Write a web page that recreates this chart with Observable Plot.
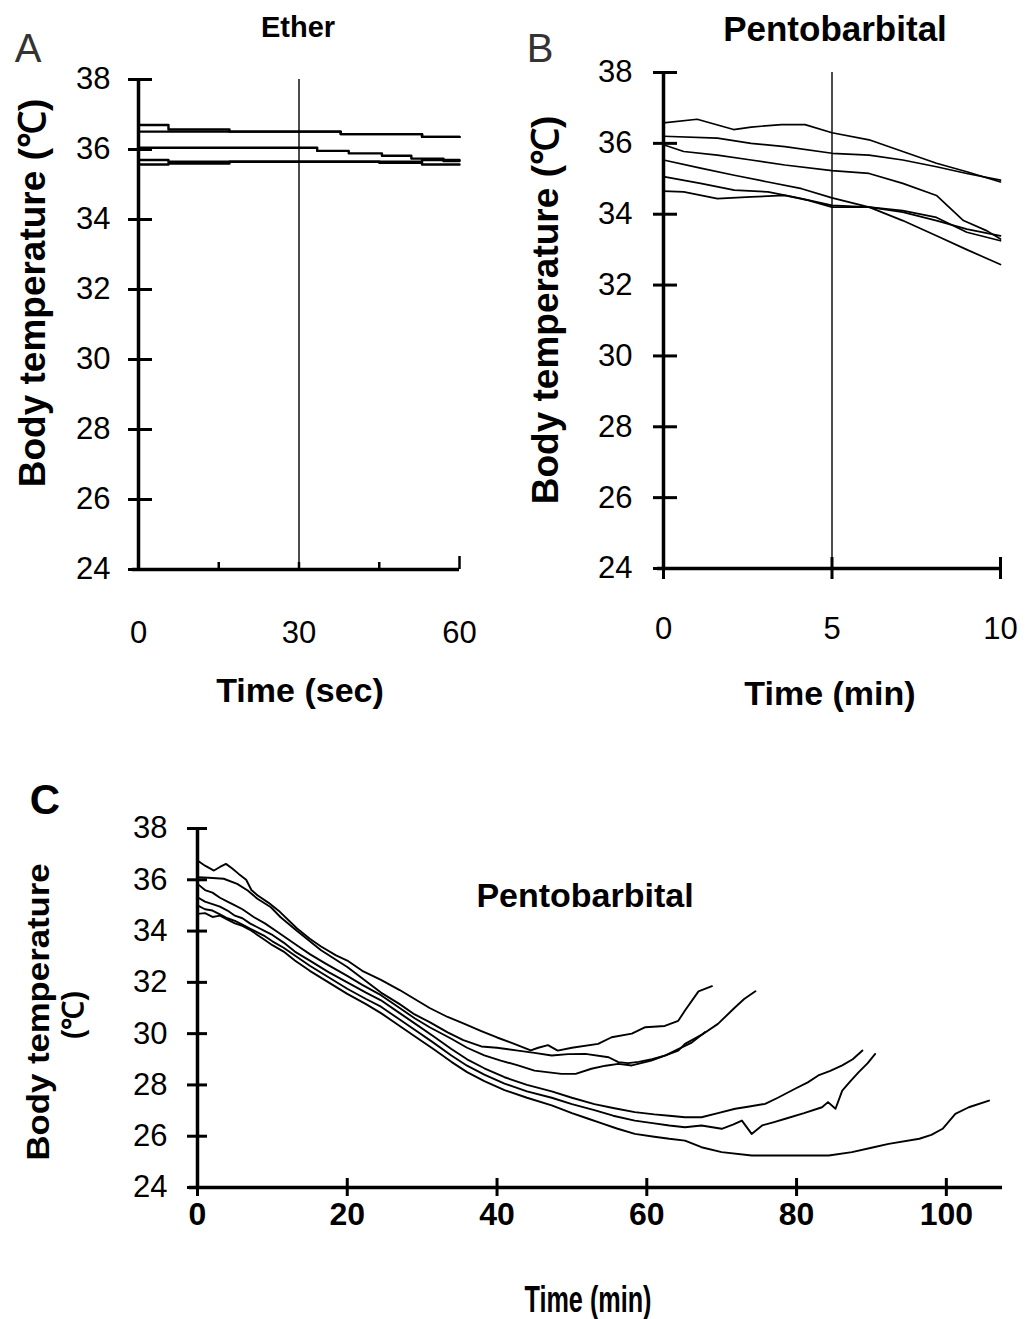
<!DOCTYPE html>
<html><head><meta charset="utf-8">
<script src="https://cdn.jsdelivr.net/npm/d3@7"></script>
<script src="https://cdn.jsdelivr.net/npm/@observablehq/plot@0.6"></script>
<style>
body{margin:0;background:#fff;}
#root{position:relative;width:1025px;height:1319px;overflow:hidden;background:#fff;font-family:"Liberation Sans",Arial,sans-serif;color:#000;}
.abs{position:absolute;transform:translate(-50%,-50%);white-space:nowrap;line-height:1;}
.rot{transform:translate(-50%,-50%) rotate(-90deg);}
.rotlong{transform:translate(-50%,-50%) rotate(-90deg) scaleX(1.12);}
.narrow{transform:translate(-50%,-50%) scaleX(0.7);}
</style></head><body><div id="root"></div>
<script>
// ---------- Panel A: Ether (time in sec) ----------
const etherTicksY = [24, 26, 28, 30, 32, 34, 36, 38];
const etherTicksX = [0, 30, 60];
const etherMinorX = [15, 30, 45];
const etherMark = [30];
const ether1 = [[0,36.70],[5.6,36.57],[17,36.51],[37.8,36.44],[53,36.36],[60,36.36]];
const ether2 = [[0,36.51],[37.8,36.44],[53,36.36],[60,36.36]];
const ether3 = [[0,36.05],[33.4,35.96],[39.3,35.89],[45.5,35.82],[51,35.74],[57,35.67],[60,35.67]];
const ether4 = [[0,35.70],[5.6,35.65],[45,35.65],[53,35.70],[60,35.70]];
const ether5 = [[0,35.57],[5.6,35.60],[17,35.65],[45,35.62],[53,35.57],[60,35.57]];

// ---------- Panel B: Pentobarbital (0-10 min) ----------
const pentoBTicksY = [24, 26, 28, 30, 32, 34, 36, 38];
const pentoBTicksX = [0, 5, 10];
const pentoBMark = [5];
const pentoB1 = [[0,36.58],[1.0,36.68],[2.08,36.39],[2.6,36.46],[3.5,36.53],[4.2,36.53],[5.0,36.30],[6.1,36.10],[7.1,35.77],[8.1,35.44],[9.0,35.20],[10,34.91]];
const pentoB2 = [[0,36.20],[1.6,36.15],[2.6,36.00],[3.6,35.91],[5.0,35.72],[6.1,35.67],[7.1,35.53],[8.1,35.34],[9.0,35.15],[10,34.96]];
const pentoB3 = [[0,35.96],[0.6,35.77],[1.6,35.67],[2.6,35.53],[3.6,35.39],[5.0,35.23],[6.1,35.15],[7.1,34.87],[8.1,34.53],[8.9,33.82],[9.6,33.53],[10,33.30]];
const pentoB4 = [[0,35.53],[1.1,35.30],[2.1,35.10],[3.1,34.91],[4.1,34.72],[5.0,34.46],[6.1,34.20],[7.1,33.82],[8.1,33.39],[9.0,33.00],[10,32.58]];
const pentoB5 = [[0,35.06],[1.1,34.87],[2.1,34.68],[3.1,34.63],[4.1,34.44],[5.0,34.25],[6.1,34.20],[7.1,34.06],[8.1,33.82],[9.0,33.58],[10,33.39]];
const pentoB6 = [[0,34.65],[0.6,34.63],[1.6,34.44],[2.6,34.49],[3.6,34.53],[4.3,34.39],[5.0,34.20],[6.1,34.20],[7.1,34.10],[8.1,33.91],[9.0,33.49],[10,33.25]];

// ---------- Panel C: Pentobarbital (long course) ----------
const pentoCTicksY = [24, 26, 28, 30, 32, 34, 36, 38];
const pentoCTicksX = [0, 20, 40, 60, 80, 100];
const pentoC1 = [[0,36.75],[1,36.55],[2.2,36.36],[3,36.5],[3.8,36.62],[4.6,36.45],[5.5,36.23],[6.5,36.0],[7.2,35.6],[8,35.4],[9.5,35.1],[11,34.75],[13.3,34.1],[15,33.7],[16.5,33.4],[18.5,33.05],[20,32.85],[22,32.45],[24.5,32.1],[27,31.7],[29,31.35],[31,31.0],[33.4,30.65],[35.5,30.4],[37.9,30.1],[40,29.85],[42.3,29.6],[44.5,29.35],[45.5,29.45],[46.8,29.55],[48.1,29.34],[50,29.45],[53.5,29.6],[55.3,29.86],[58,30.0],[59.8,30.25],[62.4,30.3],[64.2,30.5],[65.1,30.9],[66.9,31.65],[68.7,31.85]];
const pentoC2 = [[0,35.84],[1,35.6],[2,35.5],[3,35.3],[4,35.15],[5,35.0],[6,34.85],[7.5,34.55],[9,34.3],[10.5,34.0],[12,33.7],[13.5,33.4],[15,33.1],[17,32.75],[20,32.25],[22,31.9],[24.5,31.5],[27,31.0],[29,30.6],[31,30.25],[33.9,29.8],[36,29.45],[38.3,29.15],[40.5,28.95],[42.8,28.76],[45,28.56],[48.6,28.43],[50.5,28.43],[52.6,28.63],[54.5,28.75],[56.2,28.82],[58,28.76],[60.6,28.95],[62.5,29.15],[64.2,29.34],[65.1,29.6],[67.3,29.95],[69.5,30.38],[71.8,31.03],[73,31.35],[74.5,31.65]];
const pentoC3 = [[0,36.1],[1.5,36.08],[3.5,36.04],[5.3,35.84],[6.7,35.58],[8,35.26],[9.8,34.93],[11.1,34.54],[13.3,34.0],[16.5,33.25],[20,32.6],[24.5,31.6],[27,31.15],[29,30.75],[31,30.45],[33.4,30.05],[35.5,29.75],[37.9,29.5],[40,29.45],[42.8,29.34],[45,29.25],[47.3,29.15],[49.5,29.2],[51.8,29.21],[54.9,29.08],[56.2,28.89],[57.5,28.85],[58.9,28.9],[60.7,29.0],[62.5,29.15],[64.2,29.4],[66,29.65],[66.9,29.86],[67.8,30.06]];
const pentoC4 = [[0,35.32],[1,35.15],[2,35.05],[3,34.95],[4,34.8],[5,34.6],[6,34.5],[7,34.3],[8,34.15],[9,34.0],[10,33.85],[11.5,33.55],[13,33.2],[15,32.85],[17.5,32.4],[20,32.0],[22.5,31.6],[24.5,31.3],[27,30.8],[29,30.4],[31.5,29.9],[33.9,29.4],[36,29.0],[38.3,28.65],[41,28.3],[44,28.0],[47.3,27.75],[50,27.5],[53,27.25],[55.5,27.1],[58.4,26.94],[61,26.85],[63,26.8],[65.1,26.74],[67.3,26.74],[69.5,26.9],[71.8,27.07],[73.5,27.15],[75.8,27.26],[77.5,27.5],[79.8,27.85],[81.5,28.1],[82.9,28.37],[84.5,28.55],[86.1,28.76],[87.5,29.0],[88.8,29.34]];
const pentoC5 = [[0,35.0],[1,34.85],[2,34.8],[3,34.65],[4,34.5],[5,34.4],[6,34.25],[7,34.1],[8,33.95],[9,33.8],[10,33.6],[11.5,33.35],[13,33.05],[15,32.65],[17.5,32.2],[20,31.75],[22.5,31.35],[24.5,31.05],[27,30.55],[29,30.15],[31.5,29.65],[33.9,29.15],[36,28.75],[38.3,28.4],[41,28.05],[44,27.75],[47.3,27.5],[50,27.25],[53,27.02],[55.5,26.8],[58.4,26.61],[61,26.5],[63,26.42],[65.1,26.35],[67.3,26.42],[70,26.29],[71.5,26.45],[72.7,26.61],[74,26.09],[75.4,26.42],[77,26.55],[78.5,26.68],[81,26.9],[83.4,27.13],[84.2,27.33],[85.2,27.07],[86.1,27.78],[87.2,28.15],[88.3,28.5],[89.5,28.85],[90.5,29.21]];
const pentoC6 = [[0,34.67],[1,34.7],[2,34.55],[3,34.6],[4,34.45],[5,34.3],[6,34.2],[7,34.05],[8,33.85],[9,33.65],[10,33.45],[11.5,33.2],[13,32.85],[15,32.45],[17.5,32.0],[20,31.55],[22.5,31.15],[24.5,30.8],[27,30.3],[29,29.9],[31.5,29.4],[33.9,28.9],[36,28.5],[38.3,28.15],[41,27.8],[44,27.5],[47.3,27.2],[50,26.9],[52,26.7],[54,26.5],[56,26.3],[58.4,26.09],[61,25.98],[63,25.9],[65.1,25.83],[67.3,25.57],[70,25.38],[74,25.25],[79,25.25],[84.3,25.25],[87.4,25.38],[90,25.55],[92.3,25.7],[96.4,25.9],[98,26.05],[99.5,26.29],[101.2,26.87],[103,27.13],[105.7,27.39]];

const yTitle = "Body temperature (\u2103)";
const sansFont = "Liberation Sans, Arial, sans-serif";

function toRows(seriesList) {
  return seriesList.flatMap((s, i) => s.map(([t, v]) => ({t, v, id: i})));
}
const root = document.getElementById("root");
function place(svg, left, top) {
  svg.style.position = "absolute";
  svg.style.left = left + "px";
  svg.style.top = top + "px";
  root.appendChild(svg);
}
function label(text, x, y, css, cls) {
  const d = document.createElement("div");
  d.className = "abs" + (cls ? " " + cls : "");
  d.textContent = text;
  d.style.left = x + "px";
  d.style.top = y + "px";
  d.style.cssText += css;
  root.appendChild(d);
}

// Panel A
const plotA = Plot.plot({
  width: 520, height: 760,
  marginLeft: 138, marginRight: 61, marginTop: 79, marginBottom: 191,
  x: {domain: [0, 60], axis: null},
  y: {domain: [24, 38], axis: null},
  style: {background: "transparent", overflow: "visible"},
  marks: [
    Plot.ruleX(etherMark, {y1: 24, y2: 38, strokeWidth: 1.4}),
    Plot.line(toRows([ether1, ether2, ether3, ether4, ether5]), {x: "t", y: "v", z: "id", curve: "step-after", stroke: "#000", strokeWidth: 2.4}),
    Plot.ruleX([0], {y1: 24, y2: 38, strokeWidth: 3.5}),
    Plot.ruleY([24], {x1: 0, x2: 60, strokeWidth: 3.5, insetLeft: -6}),
    Plot.axisY({ticks: etherTicksY, tickSize: 24, dx: 14, fill: "none", strokeWidth: 3, label: null}),
    Plot.axisY({ticks: etherTicksY, tickSize: 0, tickPadding: 28, fontSize: 31, fontFamily: sansFont, label: null}),
    Plot.axisX({ticks: etherMinorX, tickSize: 7, dy: -7, fill: "none", strokeWidth: 2.5, label: null}),
    Plot.axisX({ticks: [60], tickSize: 13, dy: -13, fill: "none", strokeWidth: 2.5, label: null}),
    Plot.axisX({ticks: etherTicksX, tickSize: 0, tickPadding: 51, fontSize: 31, fontFamily: sansFont, label: null})
  ]
});
place(plotA, 0, 0);

// Panel B
const plotB = Plot.plot({
  width: 505, height: 760,
  marginLeft: 143, marginRight: 25, marginTop: 72, marginBottom: 192,
  x: {domain: [0, 10], axis: null},
  y: {domain: [24, 38], axis: null},
  style: {background: "transparent", overflow: "visible"},
  marks: [
    Plot.ruleX(pentoBMark, {y1: 24, y2: 38, strokeWidth: 1.4}),
    Plot.line(toRows([pentoB1, pentoB2, pentoB3, pentoB4, pentoB5, pentoB6]), {x: "t", y: "v", z: "id", curve: "linear", stroke: "#000", strokeWidth: 1.7}),
    Plot.ruleX([0], {y1: 24, y2: 38, strokeWidth: 3.5}),
    Plot.ruleY([24], {x1: 0, x2: 10, strokeWidth: 3.5, insetLeft: -6}),
    Plot.axisY({ticks: pentoBTicksY, tickSize: 24, dx: 14, fill: "none", strokeWidth: 3, label: null}),
    Plot.axisY({ticks: pentoBTicksY, tickSize: 0, tickPadding: 31, fontSize: 31, fontFamily: sansFont, label: null}),
    Plot.axisX({ticks: pentoBTicksX, tickSize: 22, dy: -11, fill: "none", strokeWidth: 3, label: null}),
    Plot.axisX({ticks: pentoBTicksX, tickSize: 0, tickPadding: 48, fontSize: 31, fontFamily: sansFont, label: null})
  ]
});
place(plotB, 520, 0);

// Panel C
const plotC = Plot.plot({
  width: 1025, height: 559,
  marginLeft: 197, marginRight: 23, marginTop: 68, marginBottom: 132,
  x: {domain: [0, 107.5], axis: null},
  y: {domain: [24, 38], axis: null},
  style: {background: "transparent", overflow: "visible"},
  marks: [
    Plot.line(toRows([pentoC1, pentoC2, pentoC3, pentoC4, pentoC5, pentoC6]), {x: "t", y: "v", z: "id", curve: "linear", stroke: "#000", strokeWidth: 1.9}),
    Plot.ruleX([0], {y1: 24, y2: 38, strokeWidth: 3.5}),
    Plot.ruleY([24], {x1: 0, x2: 107.5, strokeWidth: 3.5, insetLeft: -8}),
    Plot.axisY({ticks: pentoCTicksY, tickSize: 20, dx: 10, fill: "none", strokeWidth: 3, label: null}),
    Plot.axisY({ticks: pentoCTicksY, tickSize: 0, tickPadding: 30, fontSize: 31, fontFamily: sansFont, label: null}),
    Plot.axisX({ticks: pentoCTicksX, tickSize: 18, dy: -9, fill: "none", strokeWidth: 3, label: null}),
    Plot.axisX({ticks: pentoCTicksX, tickSize: 0, tickPadding: 15, fontSize: 32, fontWeight: "bold", fontFamily: sansFont, label: null})
  ]
});
place(plotC, 0, 760);

// Text
label("A", 28, 48, "font-size:40px;color:#333;");
label("B", 540, 48, "font-size:40px;color:#333;");
label("C", 45, 800, "font-size:42px;font-weight:bold;");
label("Ether", 298, 27, "font-size:29px;font-weight:bold;");
label("Pentobarbital", 835, 28, "font-size:35px;font-weight:bold;");
label(yTitle, 32, 293, "font-size:37px;font-weight:bold;", "rot");
label(yTitle, 545, 310, "font-size:37px;font-weight:bold;", "rot");
label("Time (sec)", 300, 690, "font-size:34px;font-weight:bold;");
label("Time (min)", 830, 693, "font-size:34px;font-weight:bold;");
label("Pentobarbital", 585, 895, "font-size:34px;font-weight:bold;");
label("Body temperature", 38, 1012, "font-size:31px;font-weight:bold;", "rotlong");
label("(\u2103)", 73, 1015, "font-size:29px;font-weight:bold;", "rot");
label("Time (min)", 588, 1300, "font-size:36px;font-weight:bold;", "narrow");
</script>
</body></html>
